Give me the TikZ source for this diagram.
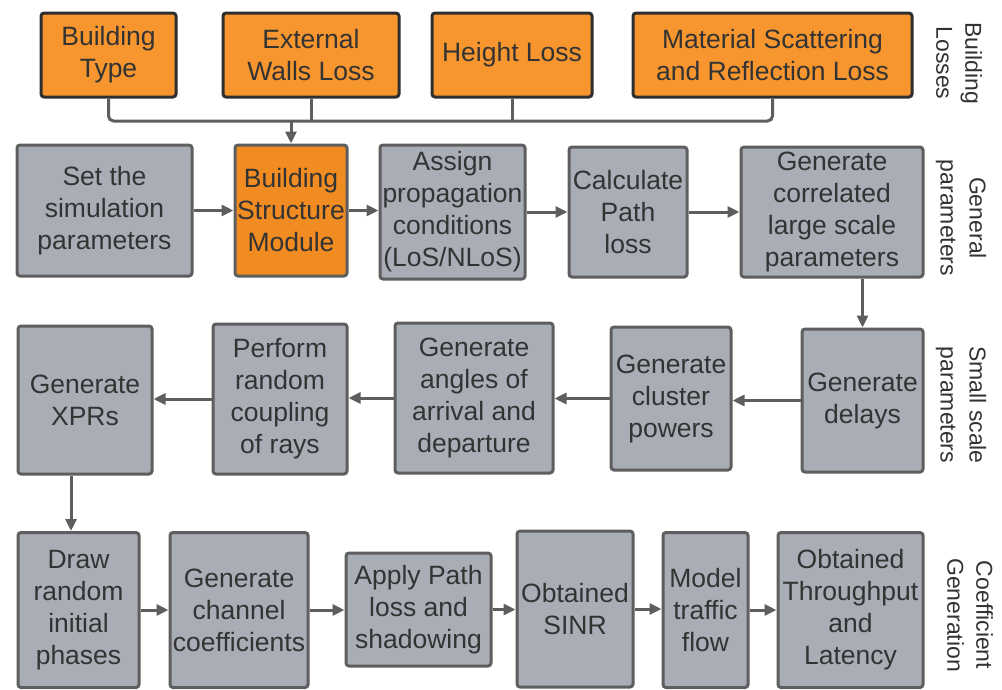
\documentclass[tikz,border=0pt]{standalone}
\usepackage{fontspec}
\setmainfont{Liberation Sans}
\usetikzlibrary{arrows.meta}
\definecolor{orA}{HTML}{F7962F}
\definecolor{orB}{HTML}{F08C22}
\definecolor{grF}{HTML}{A8ADB6}
\definecolor{grD}{HTML}{5E5E5E}
\definecolor{dkD}{HTML}{2E2E2E}
\definecolor{txt}{HTML}{333333}
\tikzset{
  base/.style={rectangle, rounded corners=3pt, line width=3pt, inner sep=0pt, align=center,
    text=txt, font=\fontsize{26.5}{32}\selectfont},
  obox/.style={base, draw=dkD, fill=orA},
  mbox/.style={base, draw=grD, fill=orB},
  gbox/.style={base, draw=grD, fill=grF},
  conn/.style={draw=grD, line width=3pt},
  arr/.style={conn, -{Triangle[length=12pt,width=11pt]}},
  side/.style={rotate=-90, align=center, text=txt, font=\fontsize{23}{29}\selectfont}
}
\begin{document}
\begin{tikzpicture}[x=1pt,y=-1pt]
\useasboundingbox (0,0) rectangle (1002,689);
% top row
\node[obox, minimum width=135, minimum height=84] (bt) at (108.5,55) {Building\\Type};
\node[obox, minimum width=176, minimum height=84] (ew) at (311,55) {External\\Walls Loss};
\node[obox, minimum width=160, minimum height=84] (hl) at (512,55) {Height Loss};
\node[obox, minimum width=279, minimum height=84] (ms) at (772.5,55) {Material Scattering\\and Reflection Loss};
% row 2
\node[gbox, minimum width=175, minimum height=131] (sim) at (104.5,210.5) {Set the\\simulation\\parameters};
\node[mbox, minimum width=112, minimum height=131] (bsm) at (291,210.5) {Building\\Structure\\Module};
\node[gbox, minimum width=145, minimum height=134] (asg) at (452.5,212) {Assign\\propagation\\conditions\\(LoS/NLoS)};
\node[gbox, minimum width=118, minimum height=130] (cpl) at (628,212) {Calculate\\Path\\loss};
\node[gbox, minimum width=182, minimum height=130] (gcl) at (832,212) {Generate\\correlated\\large scale\\parameters};
% row 3
\node[gbox, minimum width=134, minimum height=148] (xpr) at (85,400) {Generate\\XPRs};
\node[gbox, minimum width=134, minimum height=150] (prc) at (280,399) {Perform\\random\\coupling\\of rays};
\node[gbox, minimum width=158, minimum height=150] (ang) at (474,398) {Generate\\angles of\\arrival and\\departure};
\node[gbox, minimum width=120, minimum height=143] (cpw) at (671,398.5) {Generate\\cluster\\powers};
\node[gbox, minimum width=121, minimum height=143] (dly) at (862.5,400.5) {Generate\\delays};
% row 4
\node[gbox, minimum width=121, minimum height=155] (drp) at (78.5,610) {Draw\\random\\initial\\phases};
\node[gbox, minimum width=138, minimum height=155] (gcc) at (239,610) {Generate\\channel\\coefficients};
\node[gbox, minimum width=145, minimum height=113] (apl) at (418.5,609.5) {Apply Path\\loss and\\shadowing};
\node[gbox, minimum width=116, minimum height=156] (snr) at (575,609) {Obtained\\SINR};
\node[gbox, minimum width=85, minimum height=155] (mtf) at (705.5,610) {Model\\traffic\\flow};
\node[gbox, minimum width=145, minimum height=155] (thr) at (850.5,610) {Obtained\\Throughput\\and\\Latency};
% side labels
\node[side] (l1) at (959,63) {Building\\Losses};
\node[side] (l2) at (961,218) {General\\parameters};
\node[side] (l3) at (961,405) {Small scale\\parameters};
\node[side] (l4) at (970,615) {Coefficient\\Generation};
% connectors
\coordinate (bus) at (291,121);
\draw[conn, rounded corners=5pt] (bt.south) |- (bus) -| (ms.south);
\draw[conn] (ew.south) -- (ew.south |- bus);
\draw[conn] (hl.south) -- (hl.south |- bus);
\draw[arr] (bus) -- (bsm.north);
\draw[arr] (sim.east) -- (sim.east -| bsm.west);
\draw[arr] (bsm.east) -- (bsm.east -| asg.west);
\draw[arr] (asg.east) -- (asg.east -| cpl.west);
\draw[arr] (cpl.east) -- (cpl.east -| gcl.west);
\draw[arr] (gcl.south -| dly.north) -- (dly.north);
\draw[arr] (dly.west) -- (dly.west -| cpw.east);
\draw[arr] (cpw.west) -- (cpw.west -| ang.east);
\draw[arr] (ang.west) -- (ang.west -| prc.east);
\draw[arr] (prc.west) -- (prc.west -| xpr.east);
\draw[arr] ([xshift=-14pt]xpr.south) -- ([xshift=-14pt]xpr.south |- drp.north);
\draw[arr] (drp.east) -- (drp.east -| gcc.west);
\draw[arr] (gcc.east) -- (gcc.east -| apl.west);
\draw[arr] (apl.east) -- (apl.east -| snr.west);
\draw[arr] (snr.east) -- (snr.east -| mtf.west);
\draw[arr] (mtf.east) -- (mtf.east -| thr.west);
\end{tikzpicture}
\end{document}
